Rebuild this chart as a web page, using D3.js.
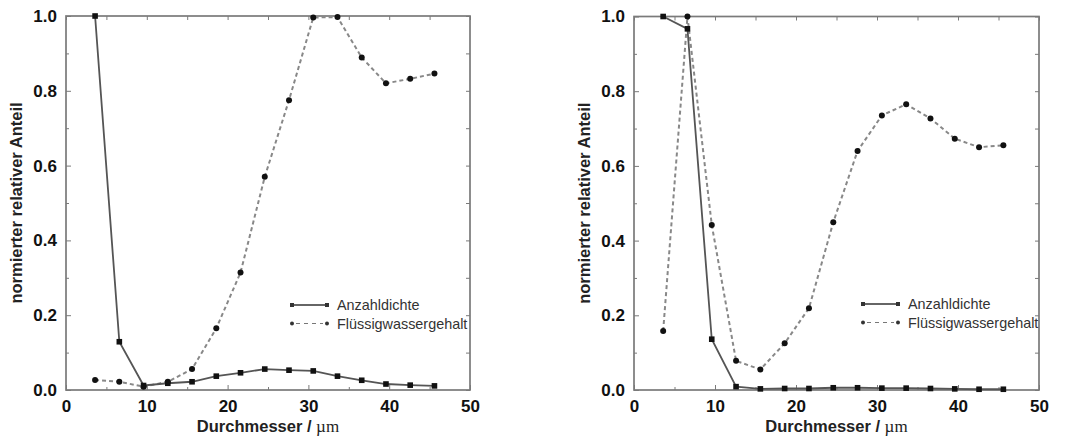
<!DOCTYPE html>
<html>
<head>
<meta charset="utf-8">
<script src="https://cdn.jsdelivr.net/npm/d3@7"></script>
<style>
  html, body { margin: 0; padding: 0; background: #fff; }
  svg { display: block; }
  .tick text { font-family: "Liberation Sans", Arial, Helvetica, sans-serif; font-weight: bold; font-size: 17px; fill: #111; }
</style>
</head>
<body>
<svg id="chart" width="1070" height="439"></svg>
<script>
// Droplet diameter classes (µm)
const diameters = [3.6, 6.6, 9.6, 12.6, 15.6, 18.6, 21.6, 24.6, 27.6, 30.6, 33.6, 36.6, 39.6, 42.6, 45.6];

// Left panel: normalised number density and liquid water content
const leftNumberDensity = [1.0, 0.129, 0.012, 0.018, 0.022, 0.037, 0.046, 0.056, 0.053, 0.051, 0.037, 0.026, 0.016, 0.013, 0.011];
const leftLiquidWater   = [0.027, 0.022, 0.009, 0.022, 0.056, 0.165, 0.314, 0.570, 0.775, 0.996, 0.997, 0.889, 0.820, 0.832, 0.846];

// Right panel
const rightNumberDensity = [1.0, 0.967, 0.136, 0.009, 0.003, 0.004, 0.004, 0.006, 0.006, 0.005, 0.005, 0.004, 0.003, 0.002, 0.002];
const rightLiquidWater   = [0.158, 1.0, 0.442, 0.078, 0.055, 0.125, 0.219, 0.449, 0.640, 0.735, 0.765, 0.727, 0.673, 0.650, 0.655];

// Axis ticks and labels
const xTicks = [0, 10, 20, 30, 40, 50];
const xMinorTicks = [5, 15, 25, 35, 45];
const yTicks = [0, 0.2, 0.4, 0.6, 0.8, 1.0];
const yMinorTicks = [0.1, 0.3, 0.5, 0.7, 0.9];
const seriesNames = ["Anzahldichte", "Flüssigwassergehalt"];
const xTitle = "Durchmesser / ";
const xUnit = "µm";
const yTitle = "normierter relativer Anteil";

const svg = d3.select("#chart");
const frameColor = "#7a7a7a";
const solidColor = "#555";
const dashColor = "#888";

function drawPanel(opts) {
  const { left, right, top, bottom, density, water, legendX, legendY, yTitleX } = opts;
  const x = d3.scaleLinear().domain([0, 50]).range([left, right]);
  const y = d3.scaleLinear().domain([0, 1]).range([bottom, top]);
  const g = svg.append("g");

  // bottom axis with labels, inward ticks
  const bx = g.append("g").attr("transform", `translate(0,${bottom})`)
    .call(d3.axisBottom(x).tickValues(xTicks).tickFormat(d3.format("d")).tickSize(-5).tickPadding(9));
  bx.select(".domain").remove();
  bx.selectAll(".tick line").attr("stroke", frameColor);
  bx.selectAll(".tick text").attr("dy", "0.78em");
  g.append("g").attr("transform", `translate(0,${bottom})`)
    .call(d3.axisBottom(x).tickValues(xMinorTicks).tickFormat("").tickSize(-3))
    .call(s => { s.select(".domain").remove(); s.selectAll("line").attr("stroke", frameColor); });

  // top axis, ticks only
  g.append("g").attr("transform", `translate(0,${top})`)
    .call(d3.axisTop(x).tickValues(xTicks.concat(xMinorTicks)).tickFormat("").tickSize(-4))
    .call(s => { s.select(".domain").remove(); s.selectAll("line").attr("stroke", frameColor); });

  // left axis with labels
  const ly = g.append("g").attr("transform", `translate(${left},0)`)
    .call(d3.axisLeft(y).tickValues(yTicks).tickFormat(d3.format(".1f")).tickSize(-5).tickPadding(9));
  ly.select(".domain").remove();
  ly.selectAll(".tick line").attr("stroke", frameColor);
  g.append("g").attr("transform", `translate(${left},0)`)
    .call(d3.axisLeft(y).tickValues(yMinorTicks).tickFormat("").tickSize(-3))
    .call(s => { s.select(".domain").remove(); s.selectAll("line").attr("stroke", frameColor); });

  // right axis, ticks only
  g.append("g").attr("transform", `translate(${right},0)`)
    .call(d3.axisRight(y).tickValues(yTicks.concat(yMinorTicks)).tickFormat("").tickSize(-4))
    .call(s => { s.select(".domain").remove(); s.selectAll("line").attr("stroke", frameColor); });

  // plot frame
  g.append("rect")
    .attr("x", left).attr("y", top)
    .attr("width", right - left).attr("height", bottom - top)
    .attr("fill", "none").attr("stroke", frameColor).attr("stroke-width", 1.7);

  const densityPts = diameters.map((d, i) => [d, density[i]]);
  const waterPts = diameters.map((d, i) => [d, water[i]]);
  const line = d3.line().x(d => x(d[0])).y(d => y(d[1]));

  // liquid water content: dashed line with dots
  g.append("path").datum(waterPts)
    .attr("d", line).attr("fill", "none")
    .attr("stroke", dashColor).attr("stroke-width", 2).attr("stroke-dasharray", "4,3");
  // number density: solid line with square markers
  g.append("path").datum(densityPts)
    .attr("d", line).attr("fill", "none")
    .attr("stroke", solidColor).attr("stroke-width", 1.8);

  g.selectAll(null).data(waterPts).join("circle")
    .attr("cx", d => x(d[0])).attr("cy", d => y(d[1])).attr("r", 3).attr("fill", "#111");
  g.selectAll(null).data(densityPts).join("rect")
    .attr("x", d => x(d[0]) - 2.8).attr("y", d => y(d[1]) - 2.8)
    .attr("width", 5.6).attr("height", 5.6).attr("fill", "#111");

  // legend
  const lg = g.append("g").attr("font-family", "'Liberation Sans', Arial, Helvetica, sans-serif")
    .attr("font-size", "14.4px").attr("fill", "#333");
  const rowGap = 18.5;
  // row 1: solid
  lg.append("line").attr("x1", legendX).attr("x2", legendX + 35)
    .attr("y1", legendY).attr("y2", legendY).attr("stroke", "#333").attr("stroke-width", 1.4);
  [legendX, legendX + 35].forEach(px => lg.append("rect")
    .attr("x", px - 2).attr("y", legendY - 2).attr("width", 4).attr("height", 4).attr("fill", "#333"));
  lg.append("text").attr("x", legendX + 45).attr("y", legendY + 5).text(seriesNames[0]);
  // row 2: dashed
  const y2 = legendY + rowGap;
  lg.append("line").attr("x1", legendX + 4).attr("x2", legendX + 31)
    .attr("y1", y2).attr("y2", y2).attr("stroke", "#777").attr("stroke-width", 1.2)
    .attr("stroke-dasharray", "4,4");
  [legendX, legendX + 35].forEach(px => lg.append("circle")
    .attr("cx", px).attr("cy", y2).attr("r", 2).attr("fill", "#333"));
  lg.append("text").attr("x", legendX + 45).attr("y", y2 + 5).text(seriesNames[1]);

  // axis titles
  const xt = g.append("text")
    .attr("x", (left + right) / 2).attr("y", 432)
    .attr("text-anchor", "middle")
    .attr("font-family", "'Liberation Sans', Arial, Helvetica, sans-serif")
    .attr("font-weight", "bold").attr("font-size", "16.5px").attr("fill", "#222");
  xt.append("tspan").text(xTitle);
  xt.append("tspan").attr("font-family", "'Liberation Serif', 'Times New Roman', serif")
    .attr("font-weight", "normal").attr("font-size", "17px").text(xUnit);

  g.append("text")
    .attr("transform", `translate(${yTitleX},${(top + bottom) / 2}) rotate(-90)`)
    .attr("text-anchor", "middle")
    .attr("font-family", "'Liberation Sans', Arial, Helvetica, sans-serif")
    .attr("font-weight", "bold").attr("font-size", "16.5px").attr("fill", "#222")
    .text(yTitle);
}

drawPanel({
  left: 66, right: 470, top: 16, bottom: 390,
  density: leftNumberDensity, water: leftLiquidWater,
  legendX: 292, legendY: 305, yTitleX: 22
});

drawPanel({
  left: 634, right: 1039, top: 16.5, bottom: 390,
  density: rightNumberDensity, water: rightLiquidWater,
  legendX: 863, legendY: 304, yTitleX: 590
});
</script>
</body>
</html>
